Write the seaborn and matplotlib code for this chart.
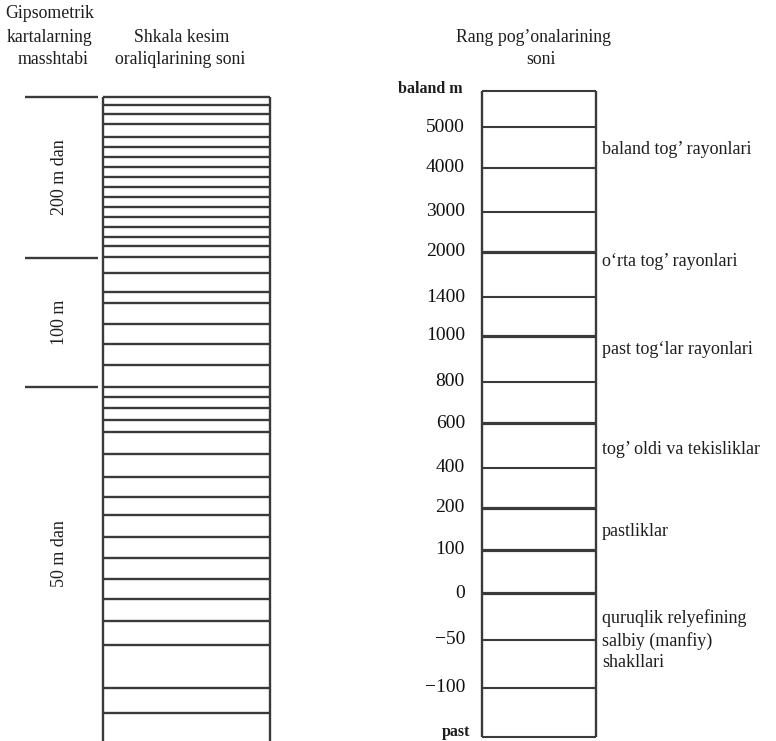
import matplotlib
matplotlib.use("Agg")
import matplotlib.pyplot as plt
import seaborn as sns

sns.set_theme(style="white")
plt.rcParams["font.family"] = ["Liberation Serif", "DejaVu Serif"]

# left column: scale of hypsometric maps and the cut lines of the scale
scale_bounds = [97, 258, 387, 720]
scale_labels = ["200 m dan", "100 m", "50 m dan"]
left_cuts = [97, 105, 114, 124, 137, 147, 157, 167, 177, 187, 197, 207, 217,
             227, 237, 246, 257, 273, 292, 303, 324, 344, 365, 387, 397, 408,
             420, 432, 454, 477, 497, 515, 537, 558, 579, 599, 621, 645, 688, 713]

# right column: colour steps
step_labels = ["baland m", "5000", "4000", "3000", "2000", "1400", "1000", "800",
               "600", "400", "200", "100", "0", "\u221250", "\u2212100", "past"]
step_levels = [91, 127, 168, 212, 252, 297, 336, 382, 423, 468, 508, 550, 593,
               640, 688, 737]
thick_steps = ["2000", "1000", "600", "200", "100", "0"]

zone_names = ["baland tog\u2019 rayonlari", "o\u2018rta tog\u2019 rayonlari",
              "past tog\u2018lar rayonlari", "tog\u2019 oldi va tekisliklar",
              "pastliklar", "quruqlik relyefining\nsalbiy (manfiy)\nshakllari"]
zone_levels = [150, 261, 350, 450, 532, 640]

line_col = "#3a3a3a"
text_col = "#1e1e1e"

fig = plt.figure(figsize=(7.76, 7.41), dpi=100)
ax = fig.add_axes([0, 0, 1, 1])
ax.set_xlim(0, 776)
ax.set_ylim(741, 0)
ax.axis("off")

# headers
hdr = dict(ha="center", va="center", fontsize=12.8, color=text_col)
ax.text(50, 14, "Gipsometrik", **hdr)
ax.text(50, 37, "kartalarning", **hdr)
ax.text(53, 60, "masshtabi", **hdr)
ax.text(182, 37, "Shkala kesim", **hdr)
ax.text(180, 60, "oraliqlarining soni", **hdr)
ax.text(534, 37, "Rang pog\u2019onalarining", **hdr)
ax.text(541, 60, "soni", **hdr)

# left scale separators and rotated labels
ax.hlines(scale_bounds[:-1], 25, 98, color=line_col, lw=1.7)
for i, lab in enumerate(scale_labels):
    yc = (scale_bounds[i] + scale_bounds[i + 1]) / 2
    ax.text(60, yc, lab, rotation=90, ha="center", va="center", fontsize=13,
            color=text_col)

# left column box
ax.vlines([103, 270], left_cuts[0], 741, color=line_col, lw=1.7)
ax.hlines(left_cuts, 103, 270, color=line_col, lw=1.7)

# right column box
ax.vlines([482, 596], step_levels[0], step_levels[-1], color=line_col, lw=1.7)
for lab, lev in zip(step_labels, step_levels):
    lw = 2.3 if lab in thick_steps else 1.5
    ax.hlines(lev, 482, 596, color=line_col, lw=lw)
    if lab == "baland m":
        ax.text(463, lev - 2, lab, ha="right", va="center", fontsize=11.5,
                fontweight="bold", color=text_col)
    elif lab == "past":
        ax.text(470, lev - 5, lab, ha="right", va="center", fontsize=11.5,
                fontweight="bold", color=text_col)
    else:
        ax.text(465, lev, lab, ha="right", va="center", fontsize=14,
                color="#111111")

for name, lev in zip(zone_names, zone_levels):
    ax.text(602, lev, name, ha="left", va="center", fontsize=13,
            linespacing=1.35, color=text_col)

fig.savefig("out.png", dpi=100)
